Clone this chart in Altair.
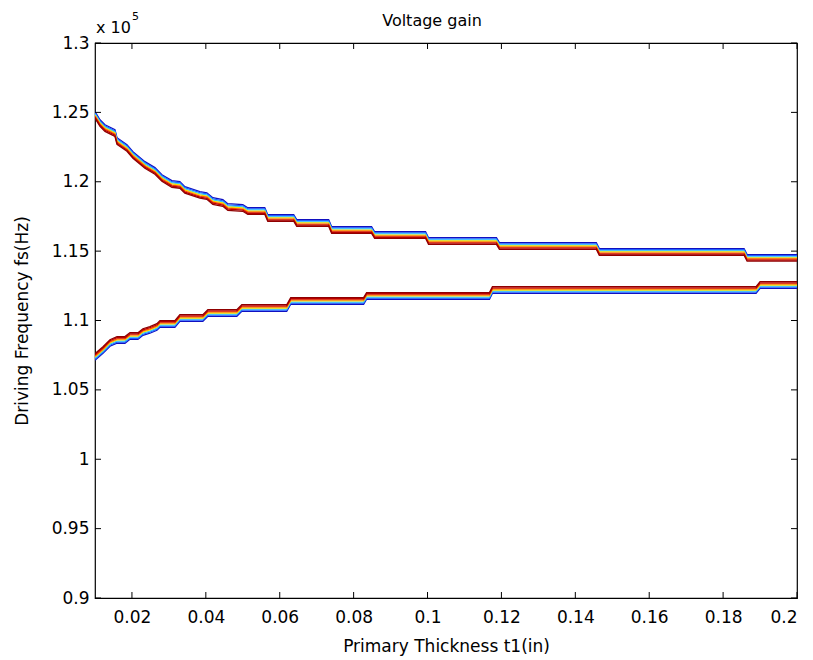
import altair as alt
import pandas as pd

# Upper branch (centre of the colour bundle), t1 in inches, fs in units of 1e5 Hz
upper_t1 = [0.01, 0.01135, 0.0127, 0.0154, 0.01595, 0.01865, 0.02027, 0.02351, 0.02622,
            0.02811, 0.0308, 0.03297, 0.03432, 0.03838, 0.04027, 0.04189, 0.0446, 0.04595,
            0.05, 0.05135, 0.05595, 0.05676, 0.06378, 0.06459, 0.07324, 0.07405, 0.08486,
            0.08568, 0.09946, 0.10027, 0.11865, 0.11946, 0.14568, 0.14649, 0.18568, 0.18649, 0.2]
upper_fs = [1.2481, 1.2423, 1.2387, 1.2351, 1.2294, 1.2243, 1.2193, 1.2121, 1.2078,
            1.2027, 1.1984, 1.1977, 1.1941, 1.1905, 1.1897, 1.1861, 1.1847, 1.1818,
            1.1811, 1.1789, 1.1789, 1.1739, 1.1739, 1.1703, 1.1703, 1.1652, 1.1652,
            1.1616, 1.1616, 1.1573, 1.1573, 1.1537, 1.1537, 1.1494, 1.1494, 1.1451, 1.1451]

# Lower branch
lower_t1 = [0.01, 0.01216, 0.01405, 0.01595, 0.01811, 0.01946, 0.02162, 0.02297, 0.02486,
            0.02676, 0.02757, 0.03162, 0.03297, 0.03919, 0.04054, 0.04838, 0.04973, 0.06189,
            0.06297, 0.0827, 0.08351, 0.11676, 0.11757, 0.18892, 0.19, 0.2]
lower_fs = [1.0737, 1.0787, 1.0838, 1.0860, 1.0860, 1.0888, 1.0888, 1.0917, 1.0932,
            1.0953, 1.0975, 1.0975, 1.1018, 1.1018, 1.1054, 1.1054, 1.1090, 1.1090,
            1.1141, 1.1141, 1.1177, 1.1177, 1.1220, 1.1220, 1.1256, 1.1256]

x_ticks = [0.02, 0.04, 0.06, 0.08, 0.1, 0.12, 0.14, 0.16, 0.18, 0.2]
y_ticks = [0.9, 0.95, 1.0, 1.05, 1.1, 1.15, 1.2, 1.25, 1.3]

# contour colours, outermost (blue) to innermost (dark red)
line_colors = ["#1010C0", "#2060FF", "#30C8FF", "#F8E000", "#FF5000", "#C00000", "#900000"]

W, H = 702, 555
FONT = "DejaVu Sans"
FS = 17

df_up = pd.DataFrame({"t1": upper_t1, "fs": upper_fs, "idx": range(len(upper_t1))})
df_lo = pd.DataFrame({"t1": lower_t1, "fs": lower_fs, "idx": range(len(lower_t1))})

xscale = alt.Scale(domain=[0.01, 0.2], nice=False, zero=False)
yscale = alt.Scale(domain=[0.9, 1.3], nice=False, zero=False)

xaxis = alt.Axis(values=x_ticks, format="~g", ticks=False, domain=False, grid=False,
                 labelFont=FONT, labelFontSize=FS, labelColor="#000", labelPadding=11,
                 title="Primary Thickness t1(in)", titleFont=FONT, titleFontSize=FS,
                 titleFontWeight="normal", titleColor="#000", titlePadding=13)
yaxis = alt.Axis(values=y_ticks, format="~g", ticks=False, domain=False, grid=False,
                 labelFont=FONT, labelFontSize=FS, labelColor="#000", labelPadding=6,
                 title="Driving Frequency fs(Hz)", titleFont=FONT, titleFontSize=FS,
                 titleFontWeight="normal", titleColor="#000", titlePadding=20)

layers = []
n = len(line_colors)
for df, sign in [(df_up, 1), (df_lo, -1)]:
    for i, c in enumerate(line_colors):
        off = sign * (i - (n - 1) / 2) * 1.1
        layers.append(
            alt.Chart(df).mark_line(color=c, strokeWidth=1.3, yOffset=off, clip=True).encode(
                x=alt.X("t1:Q", scale=xscale, axis=xaxis),
                y=alt.Y("fs:Q", scale=yscale, axis=yaxis),
                order="idx:Q",
            )
        )

# inward MATLAB-style ticks on all four sides
xt = pd.DataFrame({"v": x_ticks})
yt = pd.DataFrame({"v": y_ticks})
TL = 6
layers.append(alt.Chart(xt).mark_rule(color="#000", strokeWidth=1).encode(
    x=alt.X("v:Q", scale=xscale), y=alt.value(H), y2=alt.value(H - TL)))
layers.append(alt.Chart(xt).mark_rule(color="#000", strokeWidth=1).encode(
    x=alt.X("v:Q", scale=xscale), y=alt.value(0), y2=alt.value(TL)))
layers.append(alt.Chart(yt).mark_rule(color="#000", strokeWidth=1).encode(
    y=alt.Y("v:Q", scale=yscale), x=alt.value(0), x2=alt.value(TL)))
layers.append(alt.Chart(yt).mark_rule(color="#000", strokeWidth=1).encode(
    y=alt.Y("v:Q", scale=yscale), x=alt.value(W), x2=alt.value(W - TL)))

# title and exponent annotation "x 10^5"
layers.append(alt.Chart(pd.DataFrame({"t": ["Voltage gain"]})).mark_text(
    align="center", baseline="alphabetic", font=FONT, fontSize=16, color="#000").encode(
    x=alt.value(337), y=alt.value(-17), text="t:N"))
layers.append(alt.Chart(pd.DataFrame({"t": ["x 10"]})).mark_text(
    align="left", baseline="alphabetic", font=FONT, fontSize=16, color="#000").encode(
    x=alt.value(1), y=alt.value(-10), text="t:N"))
layers.append(alt.Chart(pd.DataFrame({"t": ["5"]})).mark_text(
    align="left", baseline="alphabetic", font=FONT, fontSize=11, color="#000").encode(
    x=alt.value(37), y=alt.value(-23), text="t:N"))

chart = alt.layer(*layers).properties(
    width=W, height=H,
    background="white",
    autosize=alt.AutoSizeParams(type="none"),
    padding={"left": 87, "top": 35, "right": 8, "bottom": 60},
).configure_view(stroke="#000", strokeWidth=1.2)

chart.save("out.html", embed_options={"renderer": "svg", "actions": False})
